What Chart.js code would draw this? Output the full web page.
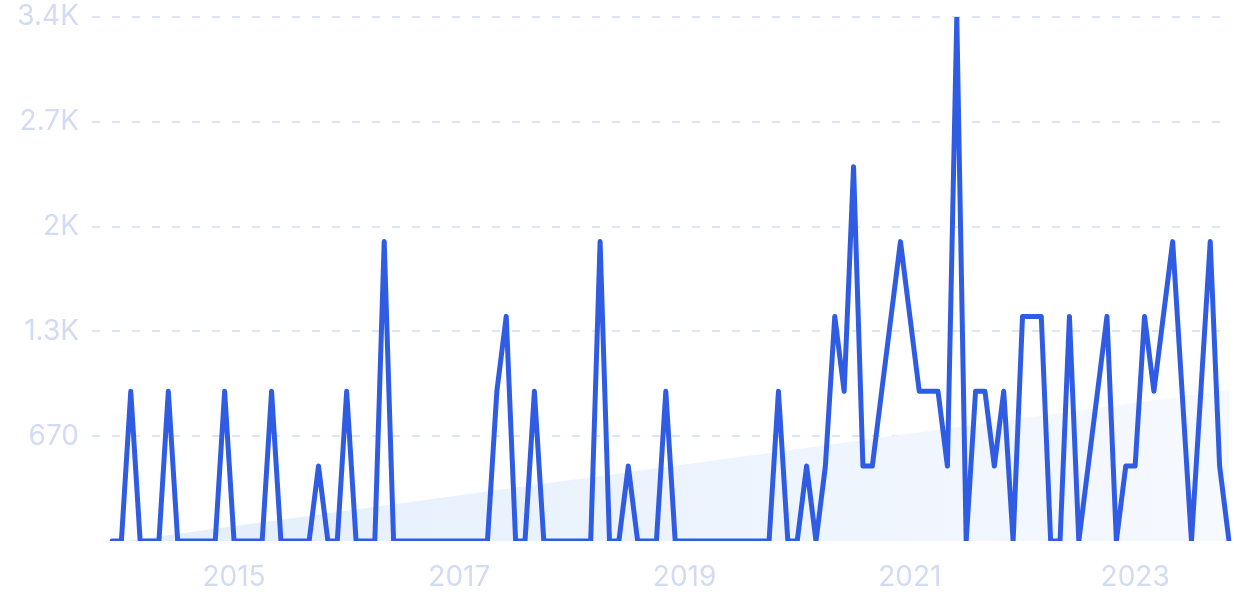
<!DOCTYPE html>
<html>
<head>
<meta charset="utf-8">
<script src="https://cdn.jsdelivr.net/npm/chart.js@4.4.0/dist/chart.umd.min.js"></script>
<style>
  html, body { margin: 0; padding: 0; background: #ffffff; }
  #wrap { width: 1234px; height: 616px; position: relative; }
</style>
</head>
<body>
<div id="wrap"><canvas id="c" width="1234" height="616"></canvas></div>
<script>
// Months from Dec 2013 to Nov 2023
const startYear = 2013, startMonth = 12, monthCount = 120;
const months = [];
for (let k = 0; k < monthCount; k++) {
  const m0 = (startMonth - 1 + k);
  const y = startYear + Math.floor(m0 / 12);
  const m = (m0 % 12) + 1;
  months.push(y + '-' + String(m).padStart(2, '0'));
}

// Monthly values
const values = [
  0, 0, 957, 0, 0, 0, 957, 0, 0, 0,
  0, 0, 957, 0, 0, 0, 0, 957, 0, 0,
  0, 0, 479, 0, 0, 957, 0, 0, 0, 1914,
  0, 0, 0, 0, 0, 0, 0, 0, 0, 0,
  0, 957, 1436, 0, 0, 957, 0, 0, 0, 0,
  0, 0, 1914, 0, 0, 479, 0, 0, 0, 957,
  0, 0, 0, 0, 0, 0, 0, 0, 0, 0,
  0, 957, 0, 0, 479, 0, 479, 1436, 957, 2393,
  479, 479, 957, 1436, 1914, 1436, 957, 957, 957, 479,
  3350, 0, 957, 957, 479, 957, 0, 1436, 1436, 1436,
  0, 0, 1436, 0, 479, 957, 1436, 0, 479, 479,
  1436, 957, 1436, 1914, 957, 0, 957, 1914, 479, 0
];

// Trend line endpoints (first and last month)
const trendStart = -12;
const trendEnd = 965;

// Axis ticks
const yMax = 3350;
const yStep = 670;
const yTickLabels = ['', '670', '1.3K', '2K', '2.7K', '3.4K'];
const xTickYears = ['2015', '2017', '2019', '2021', '2023'];

const ctx = document.getElementById('c').getContext('2d');
const grad = ctx.createLinearGradient(112, 0, 1229, 0);
grad.addColorStop(0, '#e3eefc');
grad.addColorStop(1, '#f6f9fe');

const labelColor = '#d2dbf4';
const gridColor = '#dbe4f9';

new Chart(ctx, {
  type: 'line',
  data: {
    labels: months,
    datasets: [
      {
        data: values,
        borderColor: '#2f5ce3',
        borderWidth: 5,
        pointRadius: 0,
        tension: 0,
        fill: false,
        borderJoinStyle: 'round',
        borderCapStyle: 'round',
        order: 0
      },
      {
        data: [
          { x: months[0], y: trendStart },
          { x: months[months.length - 1], y: trendEnd }
        ],
        borderWidth: 0,
        borderColor: 'rgba(0,0,0,0)',
        backgroundColor: grad,
        pointRadius: 0,
        fill: 'origin',
        order: 1
      }
    ]
  },
  options: {
    responsive: false,
    animation: false,
    events: [],
    layout: { padding: { top: 17, right: 5, left: 0, bottom: 0 } },
    plugins: { legend: { display: false }, tooltip: { enabled: false } },
    scales: {
      x: {
        type: 'category',
        offset: false,
        grid: { display: false, drawTicks: false },
        border: { display: false },
        ticks: {
          autoSkip: false,
          maxRotation: 0,
          minRotation: 0,
          padding: 20,
          color: labelColor,
          font: { family: 'Inter', size: 28 },
          callback: function (val, idx) {
            const lab = months[idx];
            const yr = lab.slice(0, 4);
            return (lab.slice(5) === '01' && xTickYears.includes(yr)) ? yr : '';
          }
        },
        afterFit: function (scale) {
          scale.height = 75;
          scale.paddingRight = 0;
          scale.paddingLeft = 0;
        }
      },
      y: {
        min: 0,
        max: yMax,
        grid: {
          color: function (c) { return c.tick && c.tick.value === 0 ? 'rgba(0,0,0,0)' : gridColor; },
          tickColor: function (c) { return c.tick && c.tick.value === 0 ? 'rgba(0,0,0,0)' : gridColor; },
          lineWidth: 2,
          tickWidth: 2,
          tickBorderDash: [8, 12],
          tickLength: 20,
          drawTicks: true
        },
        border: { display: false, dash: [8, 12] },
        ticks: {
          stepSize: yStep,
          padding: 13,
          color: labelColor,
          font: { family: 'Inter', size: 28 },
          callback: function (val) { return yTickLabels[Math.round(val / yStep)]; }
        },
        afterFit: function (scale) {
          scale.width = 112;
          scale.paddingTop = 0;
          scale.paddingBottom = 0;
        }
      }
    }
  }
});
</script>
</body>
</html>
